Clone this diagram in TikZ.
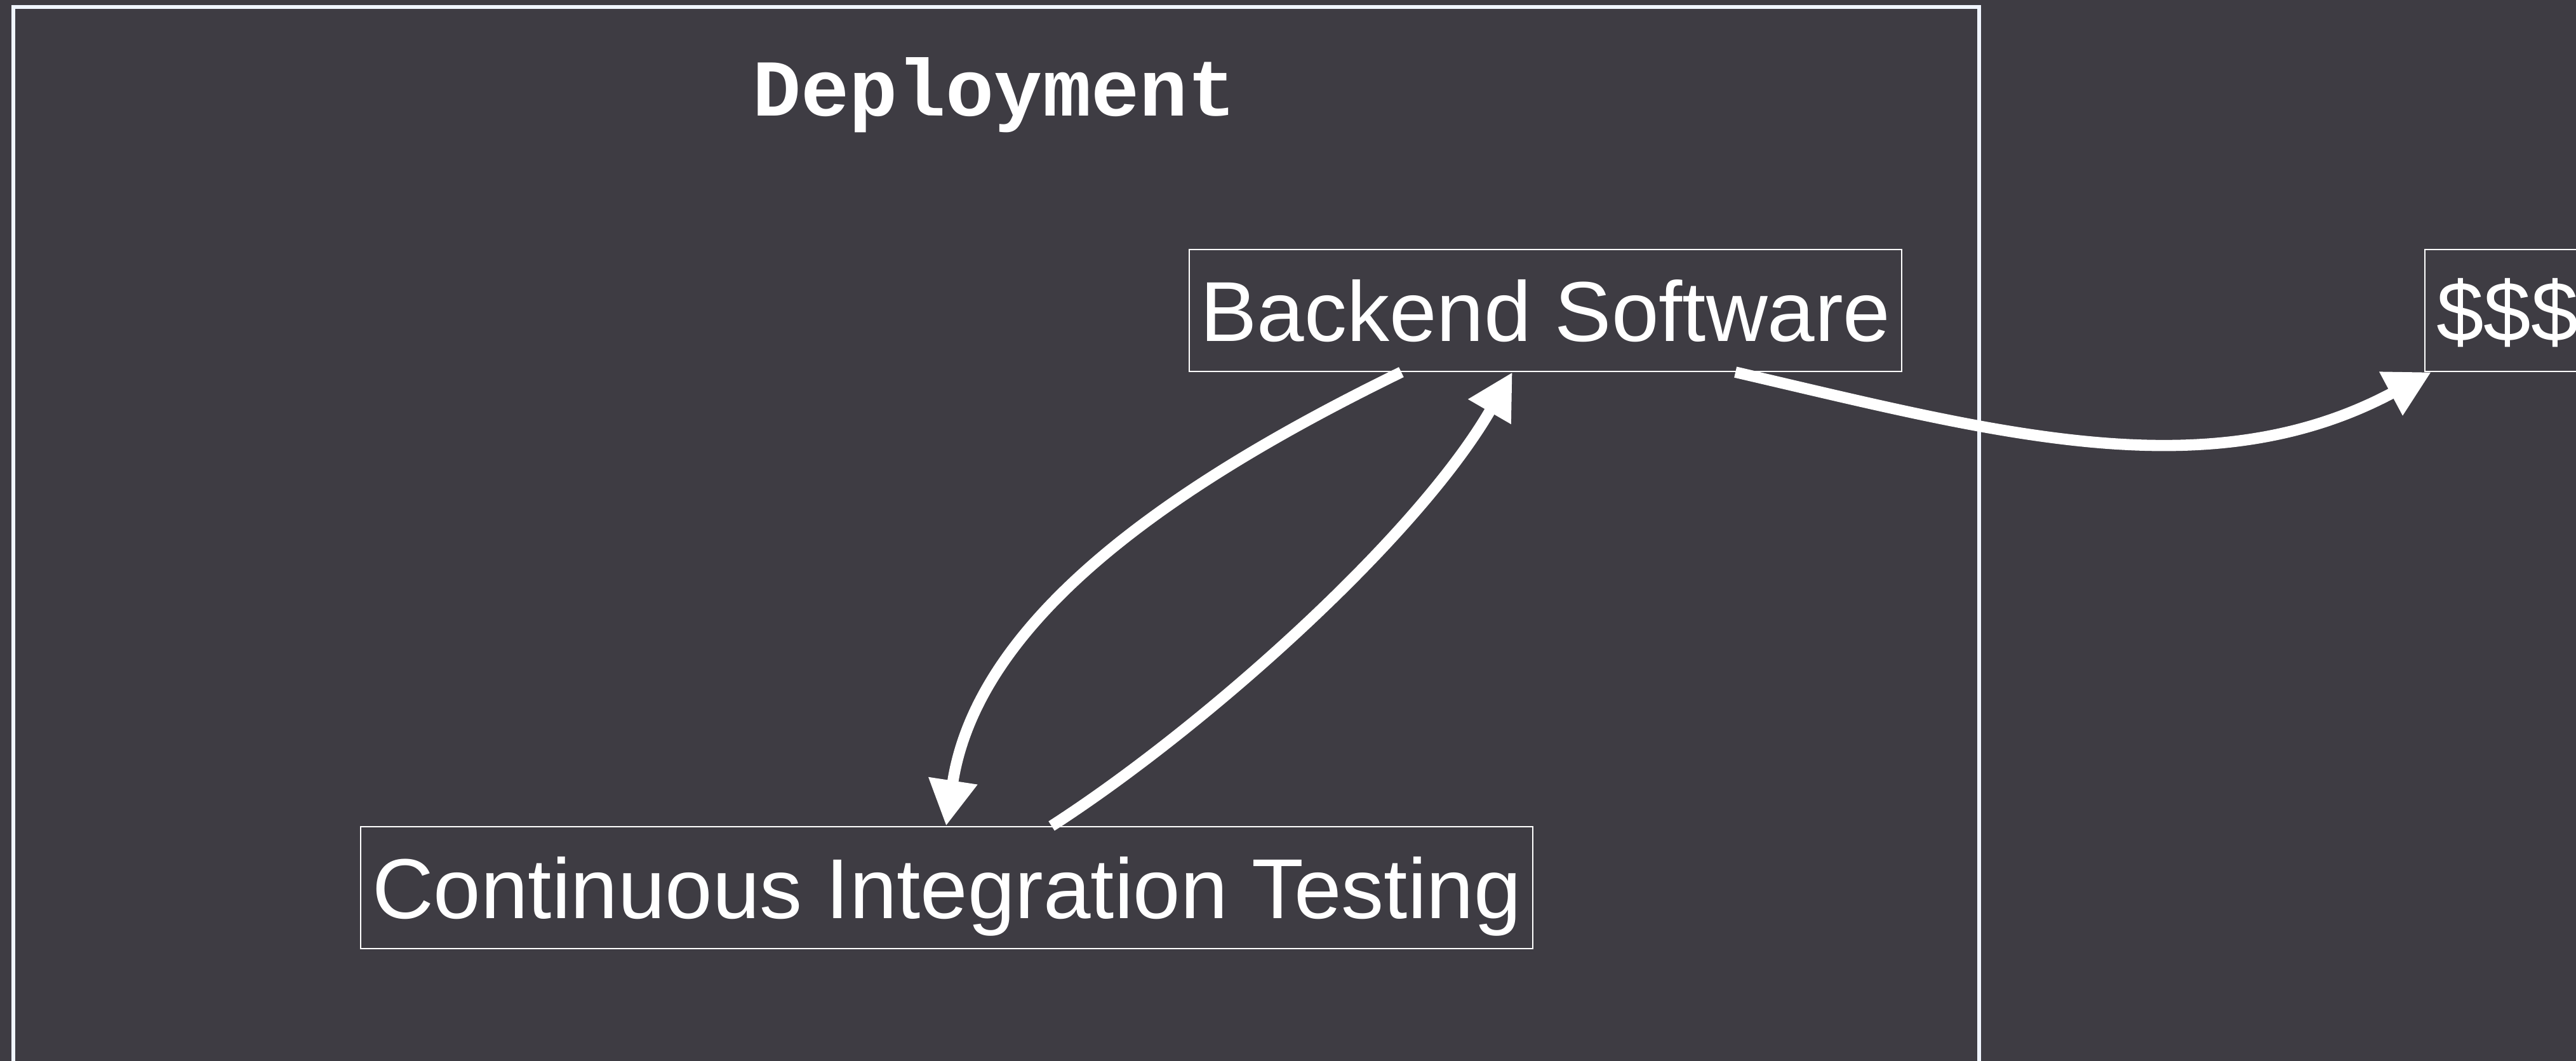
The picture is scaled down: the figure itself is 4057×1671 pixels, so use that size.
\documentclass[tikz,border=0pt]{standalone}
\usepackage{fontspec}
\setmainfont{Liberation Sans}
\newfontfamily\monofont{Liberation Mono}
\usetikzlibrary{arrows.meta}
\definecolor{slide}{RGB}{62,60,67}
\definecolor{frameline}{RGB}{240,245,255}

\tikzstyle{box}=[draw=white,line width=0.6pt,text=white,font=\fontsize{38.1pt}{40pt}\selectfont,inner xsep=0.12cm,minimum height=1.92cm,text height=0.96cm,text depth=0cm]
\tikzstyle{edge} = [draw=white,line width=5pt,-{Triangle[length=0.72cm,width=0.73cm]}]

\begin{document}
\begin{tikzpicture}[x=0.01cm,y=-0.01cm]
		\path[fill=slide,use as bounding box] (0,0) rectangle (4057,1671);
		\clip (0,0) rectangle (4057,1671);
		% The deployment frame, open at the bottom
		\draw[frameline,line width=1.7pt] (21,1700) -- (21,11) -- (3117,11) -- (3117,1700);
		\node[anchor=base,text=white,font=\monofont\bfseries\fontsize{36.1pt}{38pt}\selectfont] (title) at (1566,183) {Deployment};
		% First we draw the boxes
		\node[box,minimum width=11.22cm] (backend) at (2434,489) {Backend Software};
		\node[box,minimum width=18.45cm] (ci) at (1491,1398) {Continuous Integration Testing};
		\node[box,anchor=west,inner xsep=0.18cm] (money) at (3818,489) {\$\$\$};
		% Connect boxes with arrows
		\path[edge] ([xshift=-2.27cm]backend.south) .. controls +(-340,166) and +(51,-335) .. ([xshift=-0.01cm]ci.north);
		\path[edge] ([xshift=1.65cm]ci.north) .. controls +(236,-152) and +(-153,264) .. ([xshift=-0.52cm]backend.south);
		\path[edge] ([xshift=2.99cm]backend.south) .. controls +(409,95) and +(-352,188) .. ([xshift=0.11cm]money.south west);
\end{tikzpicture}
\end{document}
